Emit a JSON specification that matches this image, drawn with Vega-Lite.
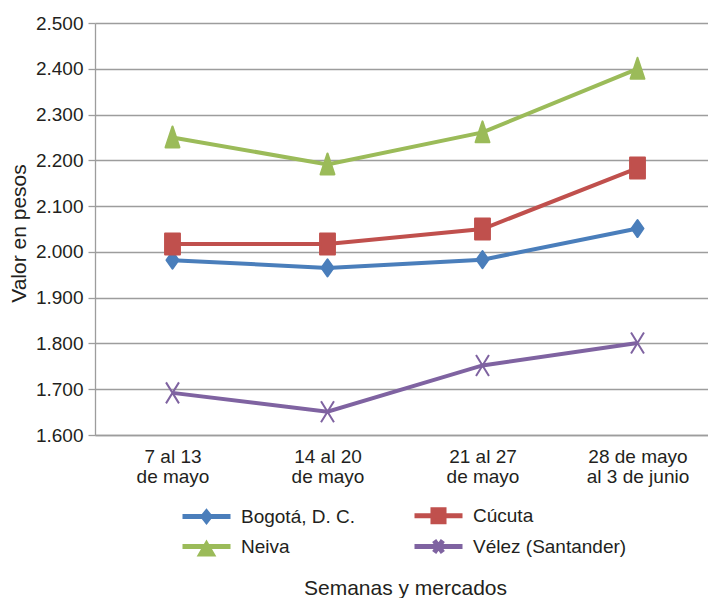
{
  "$schema": "https://vega.github.io/schema/vega-lite/v6.json",
  "width": 613,
  "height": 412,
  "autosize": {"type": "none"},
  "padding": {"left": 95, "top": 23, "right": 0, "bottom": 163},
  "background": "white",
  "config": {
    "font": "Liberation Sans",
    "view": {"stroke": null}
  },
  "data": {
    "values": [
      {"semana": "7 al 13|de mayo", "mercado": "Bogotá, D. C.", "valor": 1982},
      {"semana": "14 al 20|de mayo", "mercado": "Bogotá, D. C.", "valor": 1965},
      {"semana": "21 al 27|de mayo", "mercado": "Bogotá, D. C.", "valor": 1983},
      {"semana": "28 de mayo|al 3 de junio", "mercado": "Bogotá, D. C.", "valor": 2051},
      {"semana": "7 al 13|de mayo", "mercado": "Cúcuta", "valor": 2017},
      {"semana": "14 al 20|de mayo", "mercado": "Cúcuta", "valor": 2017},
      {"semana": "21 al 27|de mayo", "mercado": "Cúcuta", "valor": 2050},
      {"semana": "28 de mayo|al 3 de junio", "mercado": "Cúcuta", "valor": 2183},
      {"semana": "7 al 13|de mayo", "mercado": "Neiva", "valor": 2250},
      {"semana": "14 al 20|de mayo", "mercado": "Neiva", "valor": 2191},
      {"semana": "21 al 27|de mayo", "mercado": "Neiva", "valor": 2261},
      {"semana": "28 de mayo|al 3 de junio", "mercado": "Neiva", "valor": 2400},
      {"semana": "7 al 13|de mayo", "mercado": "Vélez (Santander)", "valor": 1692},
      {"semana": "14 al 20|de mayo", "mercado": "Vélez (Santander)", "valor": 1651},
      {"semana": "21 al 27|de mayo", "mercado": "Vélez (Santander)", "valor": 1752},
      {"semana": "28 de mayo|al 3 de junio", "mercado": "Vélez (Santander)", "valor": 1801}
    ]
  },
  "encoding": {
    "x": {
      "field": "semana",
      "type": "ordinal",
      "sort": null,
      "scale": {"type": "point", "range": [0, 620], "padding": 0.5},
      "axis": {
        "labelExpr": "split(datum.label, '|')",
        "labelAngle": 0,
        "labelFontSize": 19,
        "labelLineHeight": 20,
        "labelColor": "#231f20",
        "labelPadding": 12,
        "ticks": false,
        "grid": false,
        "domainColor": "#9d9d9d",
        "domainWidth": 1.3,
        "title": "Semanas y mercados",
        "titleFontSize": 21,
        "titleFontWeight": "normal",
        "titleColor": "#231f20",
        "titleX": 310,
        "titleY": 159,
        "titleAlign": "center",
        "titleBaseline": "alphabetic"
      }
    },
    "y": {
      "field": "valor",
      "type": "quantitative",
      "scale": {"domain": [1600, 2500], "nice": false, "zero": false},
      "axis": {
        "values": [1600, 1700, 1800, 1900, 2000, 2100, 2200, 2300, 2400, 2500],
        "labelExpr": "replace(format(datum.value, ','), ',', '.')",
        "labelFontSize": 19,
        "labelColor": "#231f20",
        "labelPadding": 5,
        "tickSize": 7,
        "tickColor": "#9d9d9d",
        "tickWidth": 1.3,
        "grid": true,
        "gridColor": "#9d9d9d",
        "gridWidth": 1.3,
        "domainColor": "#9d9d9d",
        "domainWidth": 1.3,
        "title": "Valor en pesos",
        "titleFontSize": 21,
        "titleFontWeight": "normal",
        "titleColor": "#231f20",
        "titleX": -70,
        "titleY": 210,
        "titleAngle": 270,
        "titleAlign": "center",
        "titleBaseline": "alphabetic"
      }
    }
  },
  "resolve": {
    "scale": {"shape": "independent"},
    "legend": {"fill": "independent", "stroke": "independent", "shape": "independent"}
  },
  "layer": [
    {
      "mark": {"type": "line", "strokeWidth": 4},
      "encoding": {
        "stroke": {
          "field": "mercado", "type": "nominal",
          "scale": {"domain": ["Bogotá, D. C.", "Cúcuta", "Neiva", "Vélez (Santander)"], "range": ["#4a7ebb", "#c0504d", "#9bbb59", "#7f63a1"]},
          "legend": null
        }
      }
    },
    {
      "mark": {"type": "point", "filled": true, "size": 576, "strokeWidth": 2, "opacity": 1, "strokeJoin": "round"},
      "encoding": {
        "fill": {
          "field": "mercado", "type": "nominal",
          "scale": {"domain": ["Bogotá, D. C.", "Cúcuta", "Neiva", "Vélez (Santander)"], "range": ["#4a7ebb", "#c0504d", "#9bbb59", "#7f63a1"]},
          "legend": null
        },
        "stroke": {"field": "mercado", "type": "nominal", "legend": null},
        "shape": {
          "field": "mercado",
          "type": "nominal",
          "scale": {
            "domain": ["Bogotá, D. C.", "Cúcuta", "Neiva", "Vélez (Santander)"],
            "range": [
              "M0,-0.71L0.5,0L0,0.71L-0.5,0Z",
              "M-0.62,-0.875L0.62,-0.875L0.62,0.875L-0.62,0.875Z",
              "M0,-0.92L0.58,0.83L-0.58,0.83Z",
              "M-0.54,-0.875L0.54,0.875M-0.54,0.875L0.54,-0.875"
            ]
          },
          "legend": null
        }
      }
    },
    {
      "transform": [{"filter": "false"}],
      "mark": {"type": "point", "filled": true, "size": 576, "opacity": 1},
      "encoding": {
        "fill": {
          "field": "mercado", "type": "nominal",
          "legend": {
            "title": null, "orient": "none", "legendX": 97, "legendY": 478,
            "direction": "horizontal", "columns": 2, "padding": 0,
            "symbolSize": 576, "symbolStrokeWidth": 5, "symbolOpacity": 1,
            "labelFontSize": 19, "labelColor": "#231f20", "labelOffset": 20,
            "columnPadding": 48, "rowPadding": -8
          }
        },
        "stroke": {
          "field": "mercado", "type": "nominal",
          "legend": {
            "title": null, "orient": "none", "legendX": 97, "legendY": 478,
            "direction": "horizontal", "columns": 2, "padding": 0,
            "symbolSize": 576, "symbolStrokeWidth": 5, "symbolOpacity": 1,
            "labelFontSize": 19, "labelColor": "#231f20", "labelOffset": 20,
            "columnPadding": 48, "rowPadding": -8
          }
        },
        "shape": {
          "field": "mercado",
          "type": "nominal",
          "scale": {
            "domain": ["Bogotá, D. C.", "Cúcuta", "Neiva", "Vélez (Santander)"],
            "range": [
              "M-2,0L2,0M0,-0.36L0.29,0L0,0.36L-0.29,0Z",
              "M-2,0L2,0M-0.46,-0.5L0.46,-0.5L0.46,0.5L-0.46,0.5Z",
              "M-2,0L2,0M0,-0.17L0.46,0.625L-0.46,0.625Z",
              "M-2,0L2,0M-0.36,-0.5L0.36,0.5M-0.36,0.5L0.36,-0.5"
            ]
          },
          "legend": {
            "title": null, "orient": "none", "legendX": 97, "legendY": 478,
            "direction": "horizontal", "columns": 2, "padding": 0,
            "symbolSize": 576, "symbolStrokeWidth": 5, "symbolOpacity": 1,
            "labelFontSize": 19, "labelColor": "#231f20", "labelOffset": 20,
            "columnPadding": 48, "rowPadding": -8
          }
        }
      }
    }
  ]
}
